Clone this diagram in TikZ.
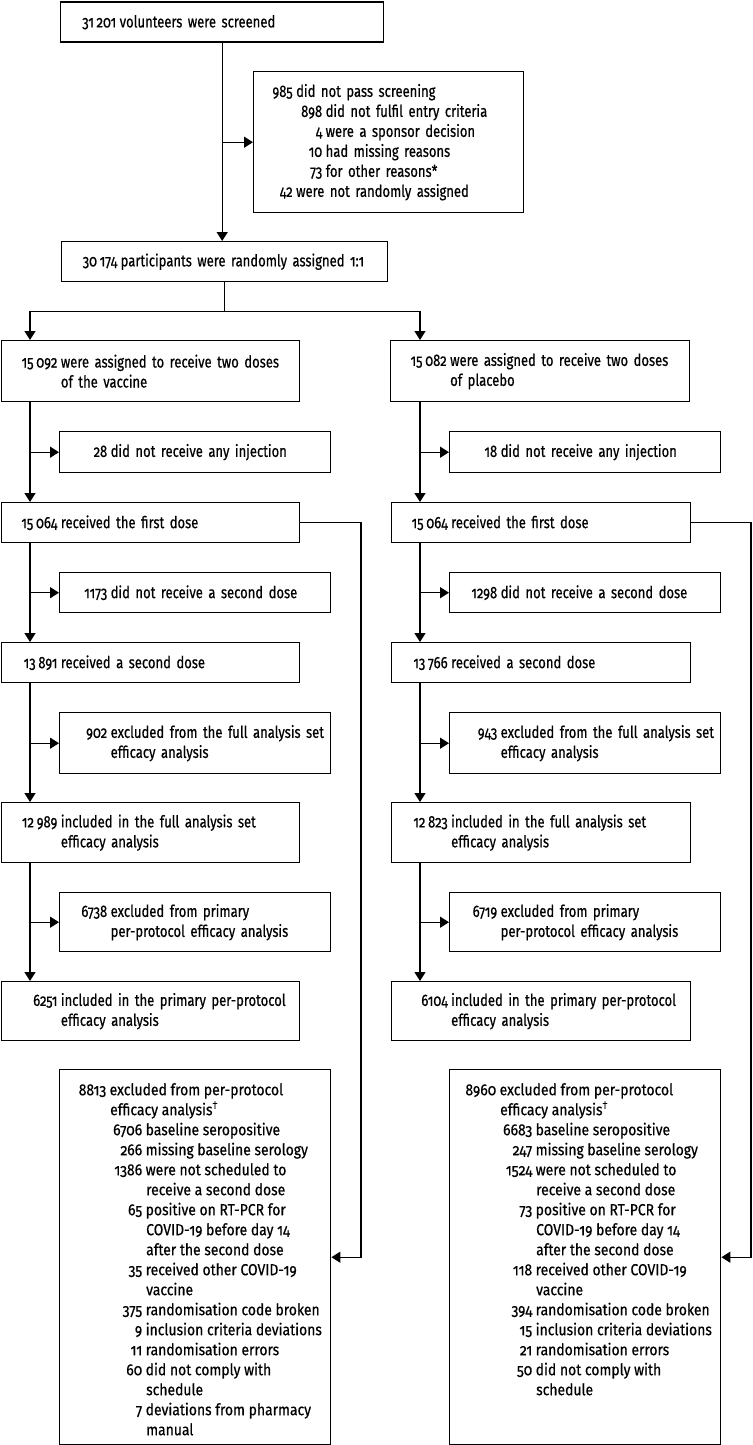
\documentclass[tikz,border=0pt]{standalone}
\usepackage{fontspec}
\setmainfont{Fira Sans}[Numbers=OldStyle]
\newfontfamily\condfont{Fira Sans}[Numbers=OldStyle,FakeStretch=0.79,FakeBold=0.5]
\newfontfamily\bigfont{Fira Sans}[Numbers=OldStyle,FakeStretch=0.87,FakeBold=0.5]
\usetikzlibrary{arrows.meta}
\newcommand{\R}[2]{\makebox[#1][r]{#2}\hspace{3.5pt}}
\begin{document}
\begin{tikzpicture}[x=1pt,y=-1pt,
  box/.style={draw, line width=1.4pt, anchor=north west, inner sep=0pt, align=left,
    font=\condfont\fontsize{16.5}{20}\selectfont},
  bigbox/.style={draw, line width=1.4pt, anchor=north west, inner sep=0pt},
  bigtext/.style={anchor=north west, inner sep=0pt, align=left,
    font=\bigfont\fontsize{16}{20}\selectfont},
  arr/.style={line width=1.4pt, -{Triangle[length=9pt,width=11pt]}},
  ln/.style={line width=1.4pt}]
\useasboundingbox[fill=white] (0,0) rectangle (752,1445);

% top
\node[box, text width=323pt, minimum height=40pt] (scr) at (60,1.5)
  {\R{55.5pt}{31\,201}volunteers were screened};
\node[box, text width=270pt, minimum height=141pt] (exc) at (253,71)
  {\R{39pt}{985}did not pass screening\\
   \hspace*{42.5pt}\R{26pt}{898}did not fulfil entry criteria\\
   \hspace*{42.5pt}\R{26pt}{4}were a sponsor decision\\
   \hspace*{42.5pt}\R{26pt}{10}had missing reasons\\
   \hspace*{42.5pt}\R{26pt}{73}for other reasons*\\
   \R{39pt}{42}were not randomly assigned};
\node[box, text width=326pt, minimum height=40pt] (rnd) at (61,241)
  {\R{55.5pt}{30\,174}participants were randomly assigned 1:1};

% left column
\node[box, text width=298pt, minimum height=61pt] (vac) at (0.7,340)
  {\R{56pt}{15\,092}were assigned to receive two doses\\\R{56pt}{}of the vaccine};
\node[box, text width=271pt, minimum height=41pt] (injL) at (59,431)
  {\R{47.5pt}{28}did not receive any injection};
\node[box, text width=298pt, minimum height=40pt] (fdL) at (0.7,502)
  {\R{56pt}{15\,064}received the first dose};
\node[box, text width=271pt, minimum height=40pt] (nsdL) at (59,572)
  {\R{47.5pt}{1173}did not receive a second dose};
\node[box, text width=298pt, minimum height=40pt] (sdL) at (0.7,642)
  {\R{56pt}{13\,891}received a second dose};
\node[box, text width=271pt, minimum height=61pt] (exfaL) at (59,712)
  {\R{47.5pt}{902}excluded from the full analysis set\\\R{47.5pt}{}efficacy analysis};
\node[box, text width=298pt, minimum height=60pt] (faL) at (0.7,802)
  {\R{56pt}{12\,989}included in the full analysis set\\\R{56pt}{}efficacy analysis};
\node[box, text width=271pt, minimum height=59pt] (exppL) at (59,892)
  {\R{47.5pt}{6738}excluded from primary\\\R{47.5pt}{}per-protocol efficacy analysis};
\node[box, text width=298pt, minimum height=59pt] (ppL) at (0.7,981)
  {\R{56pt}{6251}included in the primary per-protocol\\\R{56pt}{}efficacy analysis};

% right column
\node[box, text width=299pt, minimum height=61pt] (pla) at (390,340)
  {\R{56pt}{15\,082}were assigned to receive two doses\\\R{56pt}{}of placebo};
\node[box, text width=271pt, minimum height=41pt] (injR) at (449,431)
  {\R{47.5pt}{18}did not receive any injection};
\node[box, text width=299pt, minimum height=40pt] (fdR) at (391,502)
  {\R{56pt}{15\,064}received the first dose};
\node[box, text width=271pt, minimum height=40pt] (nsdR) at (449,572)
  {\R{47.5pt}{1298}did not receive a second dose};
\node[box, text width=299pt, minimum height=40pt] (sdR) at (391,642)
  {\R{56pt}{13\,766}received a second dose};
\node[box, text width=271pt, minimum height=61pt] (exfaR) at (449,712)
  {\R{47.5pt}{943}excluded from the full analysis set\\\R{47.5pt}{}efficacy analysis};
\node[box, text width=299pt, minimum height=60pt] (faR) at (391,802)
  {\R{56pt}{12\,823}included in the full analysis set\\\R{56pt}{}efficacy analysis};
\node[box, text width=271pt, minimum height=59pt] (exppR) at (449,892)
  {\R{47.5pt}{6719}excluded from primary\\\R{47.5pt}{}per-protocol efficacy analysis};
\node[box, text width=299pt, minimum height=59pt] (ppR) at (391,981)
  {\R{56pt}{6104}included in the primary per-protocol\\\R{56pt}{}efficacy analysis};

% big boxes
\node[bigbox, minimum width=271pt, minimum height=375pt] (bigL) at (59,1069) {};
\node[bigbox, minimum width=271pt, minimum height=375pt] (bigR) at (449,1069) {};
\node[bigtext] (tL) at (56,1083)
  {\R{50pt}{8813}excluded from per-protocol\\
   \hspace*{54pt}efficacy analysis\textsuperscript{†}\\
   \hspace*{54pt}\R{32pt}{6706}baseline seropositive\\
   \hspace*{54pt}\R{32pt}{266}missing baseline serology\\
   \hspace*{54pt}\R{32pt}{1386}were not scheduled to\\
   \hspace*{90pt}receive a second dose\\
   \hspace*{54pt}\R{32pt}{65}positive on RT-PCR for\\
   \hspace*{90pt}COVID-19 before day 14\\
   \hspace*{90pt}after the second dose\\
   \hspace*{54pt}\R{32pt}{35}received other COVID-19\\
   \hspace*{90pt}vaccine\\
   \hspace*{54pt}\R{32pt}{375}randomisation code broken\\
   \hspace*{54pt}\R{32pt}{9}inclusion criteria deviations\\
   \hspace*{54pt}\R{32pt}{11}randomisation errors\\
   \hspace*{54pt}\R{32pt}{60}did not comply with\\
   \hspace*{90pt}schedule\\
   \hspace*{54pt}\R{32pt}{7}deviations from pharmacy\\
   \hspace*{90pt}manual};
\node[bigtext] (tR) at (446,1083)
  {\R{50pt}{8960}excluded from per-protocol\\
   \hspace*{54pt}efficacy analysis\textsuperscript{†}\\
   \hspace*{54pt}\R{32pt}{6683}baseline seropositive\\
   \hspace*{54pt}\R{32pt}{247}missing baseline serology\\
   \hspace*{54pt}\R{32pt}{1524}were not scheduled to\\
   \hspace*{90pt}receive a second dose\\
   \hspace*{54pt}\R{32pt}{73}positive on RT-PCR for\\
   \hspace*{90pt}COVID-19 before day 14\\
   \hspace*{90pt}after the second dose\\
   \hspace*{54pt}\R{32pt}{118}received other COVID-19\\
   \hspace*{90pt}vaccine\\
   \hspace*{54pt}\R{32pt}{394}randomisation code broken\\
   \hspace*{54pt}\R{32pt}{15}inclusion criteria deviations\\
   \hspace*{54pt}\R{32pt}{21}randomisation errors\\
   \hspace*{54pt}\R{32pt}{50}did not comply with\\
   \hspace*{90pt}schedule};

% connectors
\coordinate (tLx) at (30,0);
\coordinate (tRx) at (420,0);
\coordinate (oL) at (361,0);
\coordinate (oR) at (751,0);
\path (rnd.south) ++(0,29) coordinate (split);

\draw[arr] (scr.south) -- (scr.south |- rnd.north);
\draw[arr] (scr.south |- exc.west) -- (exc.west);
\draw[ln] (rnd.south) -- (split);
\draw[arr] (split) -| (tLx |- vac.north);
\draw[arr] (split) -| (tRx |- pla.north);

\draw[arr] (tLx |- vac.south) -- (tLx |- fdL.north);
\draw[arr] (tLx |- injL.west) -- (injL.west);
\draw[arr] (tLx |- fdL.south) -- (tLx |- sdL.north);
\draw[arr] (tLx |- nsdL.west) -- (nsdL.west);
\draw[arr] (tLx |- sdL.south) -- (tLx |- faL.north);
\draw[arr] (tLx |- exfaL.west) -- (exfaL.west);
\draw[arr] (tLx |- faL.south) -- (tLx |- ppL.north);
\draw[arr] (tLx |- exppL.west) -- (exppL.west);

\draw[arr] (tRx |- pla.south) -- (tRx |- fdR.north);
\draw[arr] (tRx |- injR.west) -- (injR.west);
\draw[arr] (tRx |- fdR.south) -- (tRx |- sdR.north);
\draw[arr] (tRx |- nsdR.west) -- (nsdR.west);
\draw[arr] (tRx |- sdR.south) -- (tRx |- faR.north);
\draw[arr] (tRx |- exfaR.west) -- (exfaR.west);
\draw[arr] (tRx |- faR.south) -- (tRx |- ppR.north);
\draw[arr] (tRx |- exppR.west) -- (exppR.west);

\draw[arr] (fdL.east) -- (oL |- fdL.east) -- (oL |- bigL.east) -- (bigL.east);
\draw[arr] (fdR.east) -- (oR |- fdR.east) -- (oR |- bigR.east) -- (bigR.east);
\end{tikzpicture}
\end{document}
